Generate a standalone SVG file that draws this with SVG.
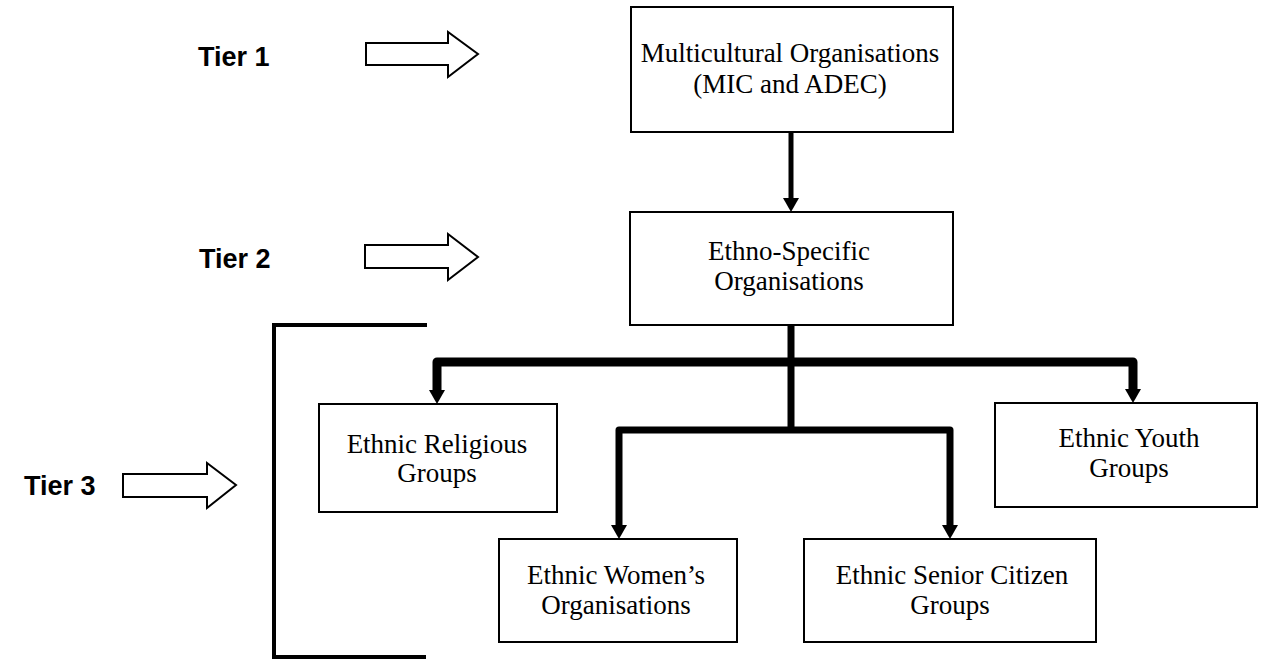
<svg xmlns="http://www.w3.org/2000/svg" width="1261" height="659" viewBox="0 0 1261 659">
<style>
.box{fill:#fff;stroke:#000;stroke-width:2}
.t{font-family:"Liberation Serif","Times New Roman",serif;font-size:27px;fill:#000;text-anchor:middle}
.tier{font-family:"Liberation Sans",Arial,sans-serif;font-size:27px;font-weight:bold;fill:#000}
.hollow{fill:#fff;stroke:#000;stroke-width:2;stroke-linejoin:miter}
.con{fill:none;stroke:#000;stroke-linejoin:round}
</style>
<defs>
<marker id="ah" markerUnits="userSpaceOnUse" markerWidth="16" markerHeight="18" viewBox="0 -9 16 18" refX="0" refY="0" orient="auto">
<path d="M0,-8 L14,0 L0,8 Z" fill="#000"/>
</marker>
</defs>
<rect width="1261" height="659" fill="#fff"/>
<g id="tier1">
<text class="tier" x="198" y="66">Tier 1</text>
<path class="hollow" d="M366,43 H448 V32 L478,54 L448,77 V65 H366 Z"/>
</g>
<g id="tier2">
<text class="tier" x="199" y="268">Tier 2</text>
<path class="hollow" d="M365,245 H448 V234 L478,257 L448,280 V268 H365 Z"/>
</g>
<g id="tier3">
<text class="tier" x="24" y="495">Tier 3</text>
<path class="hollow" d="M123,474 H207 V463 L236,485 L207,508 V497 H123 Z"/>
</g>
<g id="bracket">
<path d="M427,325 H274 V657 H426" fill="none" stroke="#000" stroke-width="4"/>
</g>
<g id="multicultural">
<rect class="box" x="631" y="7" width="322" height="125"/>
<text class="t" x="790" y="62">Multicultural Organisations</text>
<text class="t" x="790" y="93">(MIC and ADEC)</text>
</g>
<g id="ethnospecific">
<rect class="box" x="630" y="212" width="323" height="113"/>
<text class="t" x="789" y="260">Ethno-Specific</text>
<text class="t" x="789" y="290">Organisations</text>
</g>
<g id="religious">
<rect class="box" x="319" y="404" width="238" height="108"/>
<text class="t" x="437" y="453">Ethnic Religious</text>
<text class="t" x="437" y="482">Groups</text>
</g>
<g id="youth">
<rect class="box" x="995" y="403" width="262" height="104"/>
<text class="t" x="1129" y="447">Ethnic Youth</text>
<text class="t" x="1129" y="477">Groups</text>
</g>
<g id="women">
<rect class="box" x="499" y="539" width="238" height="103"/>
<text class="t" x="616" y="584">Ethnic Women’s</text>
<text class="t" x="616" y="614">Organisations</text>
</g>
<g id="senior">
<rect class="box" x="804" y="539" width="292" height="103"/>
<text class="t" x="952" y="584">Ethnic Senior Citizen</text>
<text class="t" x="950" y="614">Groups</text>
</g>
<g id="connectors">
<path class="con" d="M791,132 V198" stroke-width="5" marker-end="url(#ah)"/>
<path class="con" d="M791,325 V430" stroke-width="7"/>
<path class="con" d="M791,362 H437 V390" stroke-width="9" marker-end="url(#ah)"/>
<path class="con" d="M791,362 H1133 V389" stroke-width="9" marker-end="url(#ah)"/>
<path class="con" d="M791,430 H619 V525" stroke-width="7" marker-end="url(#ah)"/>
<path class="con" d="M791,430 H950 V525" stroke-width="7" marker-end="url(#ah)"/>
</g>
</svg>
